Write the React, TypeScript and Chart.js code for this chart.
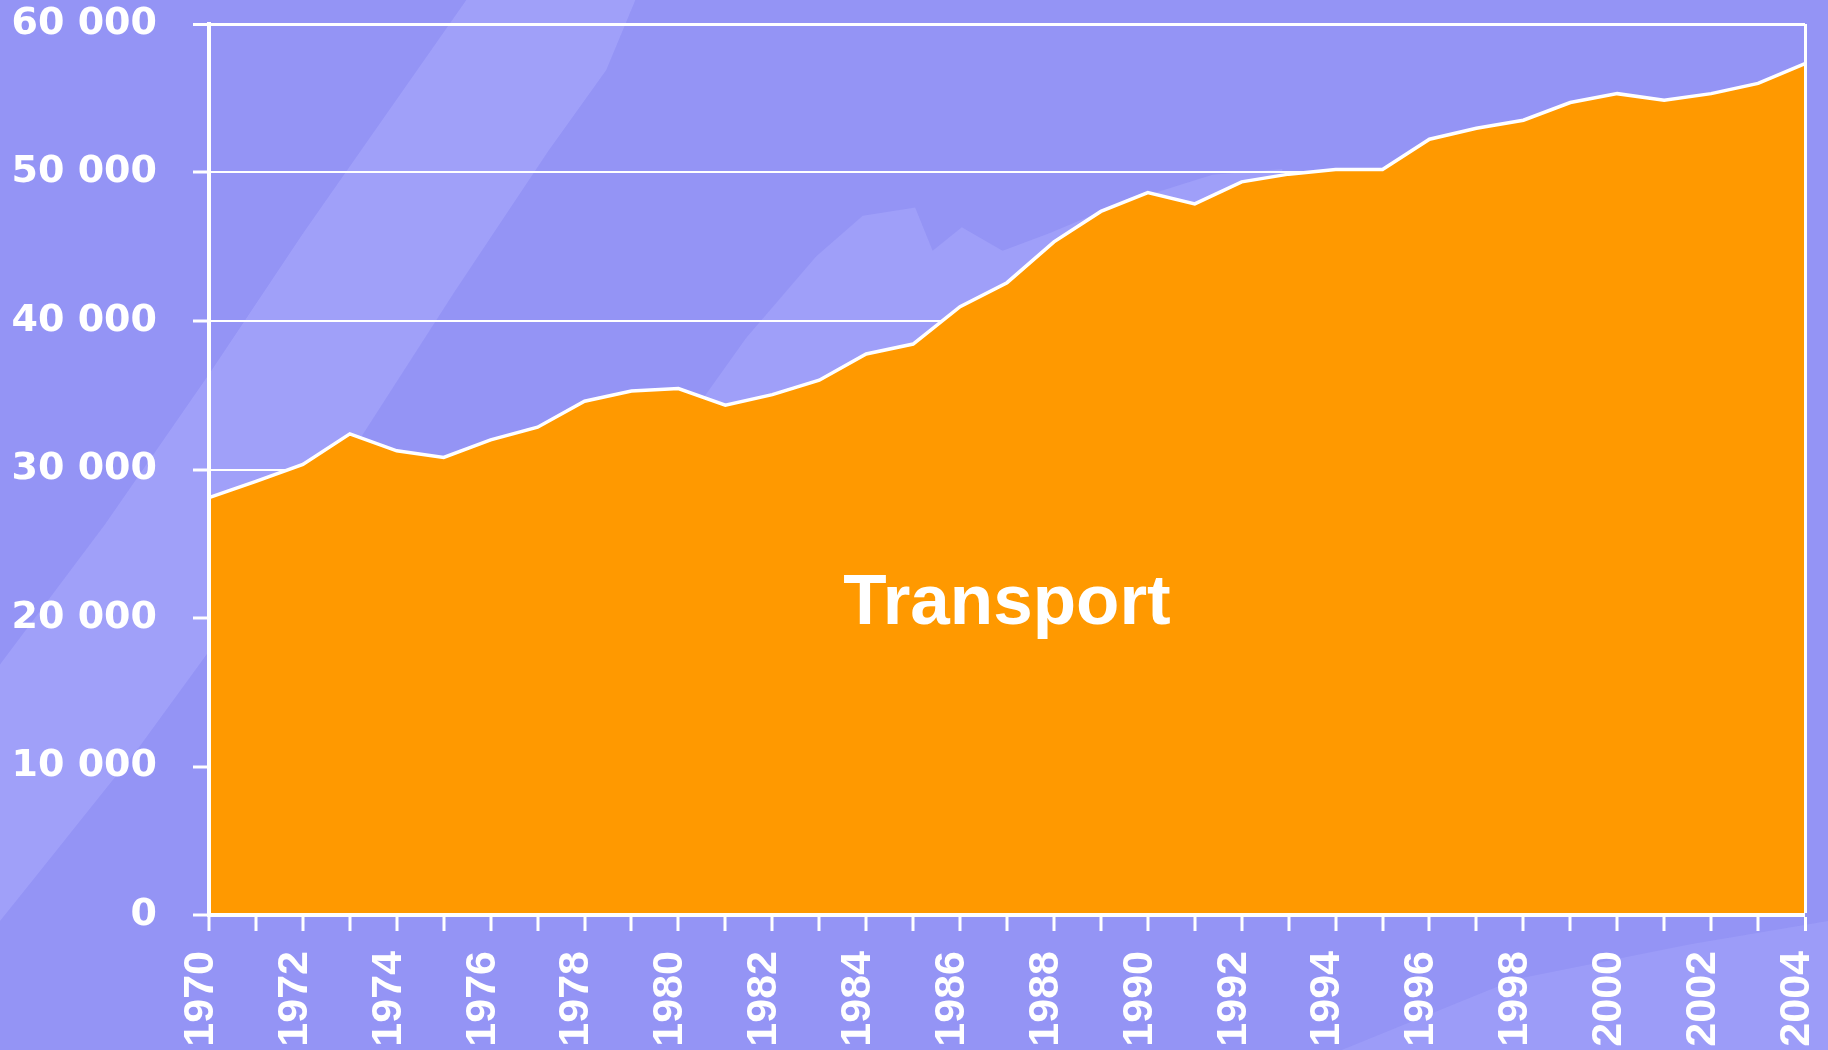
import React, { useEffect, useRef } from "react";
import { Chart, registerables } from "chart.js";

Chart.register(...registerables);

const years: string[] = [
  "1970", "1971", "1972", "1973", "1974", "1975", "1976", "1977", "1978", "1979",
  "1980", "1981", "1982", "1983", "1984", "1985", "1986", "1987", "1988", "1989",
  "1990", "1991", "1992", "1993", "1994", "1995", "1996", "1997", "1998", "1999",
  "2000", "2001", "2002", "2003", "2004",
];

const transport: number[] = [
  28100, 29200, 30340, 32400, 31260, 30810, 32000, 32850, 34600, 35290,
  35450, 34330, 35040, 36010, 37780, 38450, 40960, 42580, 45330, 47380,
  48650, 47890, 49370, 49890, 50200, 50200, 52240, 52980, 53520, 54710,
  55310, 54860, 55310, 56000, 57330,
];

const seriesLabel = "Transport";
const yMin = 0;
const yMax = 60000;
const yStep = 10000;

const W = 1828;
const H = 1050;

// decorative background swirls (in 1568-wide reference units, scaled at draw time)
const bandA: number[][] = [
  [400, 0], [545, 0], [520, 60], [470, 130], [390, 250], [300, 390], [200, 530], [120, 640], [40, 740], [0, 790],
  [0, 570], [90, 450], [180, 320], [260, 200], [330, 100],
];
const bandB: number[][] = [
  [590, 360], [640, 290], [700, 220], [740, 185], [785, 178], [800, 215], [825, 195], [860, 215], [900, 200],
  [960, 175], [1040, 150], [1100, 145], [1100, 330], [590, 420],
];
const bandC: number[][] = [
  [1150, 901], [1300, 840], [1450, 810], [1568, 790], [1568, 901],
];

const bgPlugin = {
  id: "bgPlugin",
  beforeDraw(chart: any) {
    const ctx = chart.ctx;
    const s = W / 1568;
    ctx.save();
    ctx.fillStyle = "#9494f5";
    ctx.fillRect(0, 0, chart.width, chart.height);
    const poly = (pts: number[][], color: string) => {
      ctx.beginPath();
      pts.forEach((p, i) => (i === 0 ? ctx.moveTo(p[0] * s, p[1] * s) : ctx.lineTo(p[0] * s, p[1] * s)));
      ctx.closePath();
      ctx.fillStyle = color;
      ctx.fill();
    };
    poly(bandA, "rgba(175,175,255,0.45)");
    poly(bandB, "rgba(175,175,255,0.4)");
    poly(bandC, "rgba(175,175,255,0.3)");
    ctx.restore();
  },
};

const labelPlugin = {
  id: "labelPlugin",
  afterDatasetsDraw(chart: any) {
    const { ctx, chartArea } = chart;
    ctx.save();
    ctx.fillStyle = "#ffffff";
    ctx.font = "bold 71px 'Liberation Sans', Arial, sans-serif";
    ctx.textAlign = "center";
    ctx.textBaseline = "alphabetic";
    const x = (chartArea.left + chartArea.right) / 2;
    const y = chartArea.top + 0.673 * (chartArea.bottom - chartArea.top);
    ctx.fillText(seriesLabel, x, y);
    ctx.restore();
  },
};

const zeroPad = (scale: any) => {
  scale.paddingTop = 0;
  scale.paddingBottom = 0;
  scale.paddingLeft = 0;
  scale.paddingRight = 0;
};

export default function App() {
  const ref = useRef<HTMLCanvasElement | null>(null);

  useEffect(() => {
    if (!ref.current) return;
    const lastIdx = years.length - 1;
    const chart = new Chart(ref.current, {
      type: "line",
      data: {
        labels: years,
        datasets: [
          {
            label: seriesLabel,
            data: transport,
            fill: "origin",
            backgroundColor: "#ff9900",
            borderColor: "#ffffff",
            borderWidth: 3.5,
            pointRadius: 0,
            tension: 0,
          },
        ],
      },
      options: {
        responsive: false,
        animation: false,
        layout: { padding: { top: 24, right: 23, left: 0, bottom: 0 } },
        plugins: {
          legend: { display: false },
          tooltip: { enabled: false },
        },
        scales: {
          x: {
            type: "category",
            offset: false,
            afterFit: (scale: any) => {
              scale.height = 135;
              zeroPad(scale);
            },
            grid: {
              z: 1,
              color: "#ffffff",
              lineWidth: (c: any) => (c.index === lastIdx ? 3 : 0),
              drawTicks: true,
              tickLength: 16,
              tickWidth: 3,
              tickColor: "#ffffff",
            },
            border: { display: true, color: "#ffffff", width: 4, z: 1 },
            ticks: {
              autoSkip: false,
              maxRotation: 90,
              minRotation: 90,
              padding: 20,
              labelOffset: -8,
              color: "#ffffff",
              font: { family: "'Liberation Sans', Arial, sans-serif", weight: "bold", size: 43 },
              callback: (_v: any, i: number) => (i % 2 === 0 ? years[i] : ""),
            },
          },
          y: {
            min: yMin,
            max: yMax,
            afterFit: (scale: any) => {
              scale.width = 209;
              zeroPad(scale);
            },
            grid: {
              color: "#ffffff",
              lineWidth: (c: any) => (c.tick && c.tick.value === yMax ? 3 : 2),
              drawTicks: true,
              tickLength: 16,
              tickWidth: 3,
              tickColor: "#ffffff",
            },
            border: { display: true, color: "#ffffff", width: 4, z: 1 },
            ticks: {
              stepSize: yStep,
              padding: 36,
              color: "#ffffff",
              font: { family: "'DejaVu Sans', sans-serif", weight: "bold", size: 38 },
              callback: (v: any) => (Number(v) === 0 ? "0" : `${Number(v) / 1000} 000`),
            },
          },
        },
      },
      plugins: [bgPlugin, labelPlugin],
    } as any);
    return () => chart.destroy();
  }, []);

  return (
    <div style={{ position: "fixed", left: 0, top: 0, width: W, height: H, overflow: "hidden" }}>
      <canvas ref={ref} width={W} height={H} style={{ display: "block", width: W, height: H }} />
    </div>
  );
}
